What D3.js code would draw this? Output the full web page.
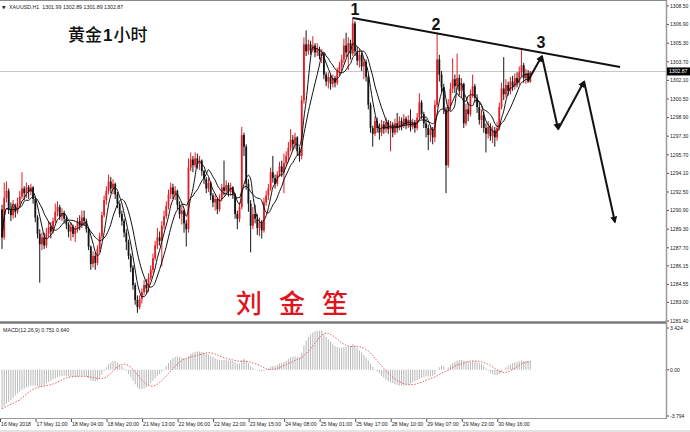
<!DOCTYPE html>
<html><head><meta charset="utf-8">
<script src="https://cdn.jsdelivr.net/npm/d3@7/dist/d3.min.js"></script>
<style>html,body{margin:0;padding:0;background:#fff;} svg{display:block;}</style>
</head><body><svg id="c" width="690" height="432"></svg>
<script>
// ---------------- data (XAUUSD H1) ----------------
const symbolHeader = "XAUUSD,H1  1301.99 1302.89 1301.89 1302.87";
const macdHeader = "MACD(12,26,9) 0.751 0.640";
const firstOpen = 1291.0;
const closes = [
1288.6,1292.0,1292.6,1291.0,1290.5,1291.3,1290.8,1291.5,1292.1,1292.8,
1292.4,1292.9,1292.5,1292.9,1291.9,1290.3,1288.9,1288.0,1288.6,1287.9,
1288.9,1289.5,1289.1,1290.0,1290.8,1291.2,1290.4,1290.7,1290.2,1289.7,
1289.1,1289.5,1288.9,1289.3,1290.0,1289.6,1290.3,1290.0,1289.3,1287.8,
1286.3,1287.0,1286.4,1287.6,1288.7,1290.5,1291.8,1292.6,1293.4,1292.8,
1293.2,1292.3,1291.5,1290.6,1290.0,1289.0,1288.2,1287.0,1286.0,1284.5,
1283.2,1282.6,1283.3,1283.9,1284.5,1284.2,1285.1,1285.8,1286.8,1287.9,
1288.6,1288.3,1289.6,1290.4,1291.3,1292.3,1292.9,1292.3,1292.6,1291.4,
1290.6,1290.9,1289.8,1289.3,1294.6,1295.3,1294.8,1295.4,1294.9,1295.2,
1294.3,1293.6,1292.8,1293.3,1292.2,1291.6,1291.9,1291.0,1291.9,1292.9,
1292.6,1293.1,1292.5,1292.9,1292.3,1290.6,1290.2,1291.2,1297.4,1296.4,
1293.2,1291.5,1289.6,1290.6,1290.2,1289.4,1289.9,1289.2,1291.6,1292.2,
1292.8,1294.2,1293.7,1293.2,1294.0,1294.7,1294.2,1295.0,1295.6,1296.3,
1297.0,1296.6,1297.2,1296.0,1295.6,1300.4,1305.2,1304.6,1305.2,1304.7,
1305.1,1304.5,1304.8,1304.2,1304.4,1302.6,1302.0,1302.4,1301.8,1302.3,
1301.9,1302.9,1303.3,1303.9,1305.1,1304.5,1305.3,1304.4,1307.0,1304.6,
1303.8,1304.3,1303.3,1303.7,1302.4,1300.0,1298.0,1297.5,1298.6,1298.0,
1297.6,1298.3,1297.9,1298.5,1297.9,1298.3,1297.6,1298.4,1298.0,1298.6,
1298.2,1298.8,1298.3,1298.7,1298.1,1298.5,1298.0,1298.9,1300.2,1299.2,
1298.4,1298.0,1297.4,1297.9,1297.2,1300.0,1303.9,1302.6,1301.5,1299.6,
1294.8,1299.9,1301.4,1302.2,1301.6,1302.3,1301.2,1301.8,1298.4,1299.6,
1299.2,1300.8,1301.6,1300.6,1299.8,1298.7,1299.1,1298.0,1297.5,1298.1,
1297.3,1297.8,1297.2,1298.0,1299.8,1301.4,1300.9,1301.7,1301.2,1302.0,
1301.6,1302.3,1301.9,1302.8,1303.4,1302.3,1302.7,1301.99,1302.87];
const highs = [
1291.4,1293.3,1293.4,1292.8,1291.6,1291.8,1291.5,1292.0,1292.6,1294.2,
1293.0,1293.3,1293.1,1293.2,1293.0,1292.0,1290.5,1289.3,1289.0,1289.0,
1289.4,1290.0,1289.9,1290.3,1291.5,1291.7,1291.4,1291.1,1290.9,1290.4,
1289.9,1289.9,1289.7,1289.6,1290.3,1290.5,1290.9,1290.9,1290.2,1289.4,
1287.9,1287.4,1287.3,1287.9,1289.0,1290.8,1292.2,1293.0,1294.0,1293.8,
1293.6,1293.3,1292.5,1291.6,1290.9,1290.2,1289.3,1288.4,1287.2,1286.2,
1284.7,1283.6,1283.6,1284.2,1284.9,1285.0,1285.5,1286.2,1287.2,1288.3,
1289.4,1289.1,1290.0,1290.9,1291.7,1292.7,1293.3,1293.2,1293.0,1292.7,
1291.7,1291.3,1291.0,1290.1,1295.4,1295.9,1295.6,1295.9,1295.8,1295.6,
1295.3,1294.4,1293.8,1293.7,1293.4,1292.4,1292.3,1292.0,1292.3,1293.2,
1295.2,1293.5,1293.3,1293.3,1293.0,1292.4,1290.9,1291.6,1298.1,1297.6,
1296.6,1293.6,1291.8,1291.2,1291.4,1290.6,1290.3,1290.1,1292.0,1292.6,
1293.2,1294.6,1295.6,1294.0,1294.3,1295.1,1295.2,1295.8,1296.0,1296.8,
1297.9,1297.4,1297.6,1297.3,1296.4,1300.8,1305.8,1306.4,1305.6,1305.5,
1305.9,1305.3,1305.3,1305.0,1304.8,1304.5,1302.8,1302.8,1302.6,1302.6,
1302.5,1303.2,1303.7,1304.3,1305.7,1306.2,1305.8,1305.6,1307.5,1307.2,
1305.0,1304.8,1304.5,1304.0,1303.9,1302.6,1300.2,1298.2,1299.0,1298.9,
1298.4,1298.7,1298.6,1298.9,1298.7,1298.6,1298.5,1298.8,1299.3,1299.0,
1298.9,1299.2,1299.0,1299.1,1299.6,1298.8,1298.7,1299.3,1301.0,1300.4,
1299.4,1298.8,1298.3,1298.2,1298.1,1300.4,1306.1,1304.3,1302.9,1301.8,
1299.8,1300.5,1301.9,1304.0,1302.6,1304.4,1302.6,1302.3,1301.9,1300.1,
1300.2,1301.3,1302.6,1301.8,1300.9,1300.2,1299.6,1299.4,1298.4,1298.6,
1298.4,1298.2,1298.1,1298.5,1300.2,1301.9,1304.1,1302.2,1302.0,1302.4,
1302.5,1302.7,1302.8,1303.3,1304.7,1303.6,1303.1,1303.0,1302.89];
const lows = [
1287.6,1288.4,1291.6,1290.6,1290.0,1290.2,1290.3,1290.6,1291.2,1291.9,
1291.8,1292.0,1291.9,1292.2,1291.5,1289.9,1288.5,1284.7,1287.5,1287.6,
1287.7,1288.6,1288.5,1288.9,1289.8,1290.4,1290.1,1290.0,1289.8,1289.3,
1288.6,1288.3,1288.6,1288.2,1289.0,1289.2,1289.4,1289.6,1289.0,1287.5,
1285.8,1286.0,1285.8,1286.2,1287.3,1288.5,1290.3,1291.4,1292.3,1292.4,
1292.3,1291.9,1291.1,1290.3,1289.6,1288.6,1287.5,1286.7,1285.6,1284.1,
1282.8,1282.1,1282.4,1282.9,1283.6,1283.8,1283.9,1284.9,1285.5,1286.6,
1287.6,1287.9,1286.1,1289.3,1290.2,1291.0,1291.9,1291.9,1291.8,1291.0,
1290.2,1289.7,1289.0,1287.8,1289.0,1294.3,1294.2,1294.6,1294.5,1294.4,
1293.9,1293.2,1292.4,1292.5,1291.8,1291.2,1290.9,1290.6,1290.8,1291.7,
1292.2,1292.3,1292.1,1292.2,1291.9,1290.2,1289.3,1289.9,1291.0,1295.6,
1292.7,1290.8,1287.3,1289.3,1289.8,1288.8,1288.7,1288.5,1289.0,1291.3,
1291.8,1292.6,1293.3,1292.8,1293.0,1293.8,1293.8,1292.4,1294.7,1295.1,
1296.0,1296.1,1296.2,1295.6,1295.1,1295.3,1300.1,1304.2,1304.3,1304.3,
1304.5,1304.1,1304.2,1303.9,1303.6,1302.2,1301.6,1301.4,1301.3,1301.5,
1301.5,1301.7,1302.5,1302.9,1303.6,1304.1,1303.0,1303.9,1304.2,1304.2,
1303.4,1303.2,1302.9,1302.2,1302.0,1299.6,1297.6,1296.4,1297.3,1297.6,
1297.0,1297.3,1297.5,1297.6,1297.5,1296.0,1297.2,1297.4,1297.6,1297.8,
1297.8,1298.0,1297.9,1298.0,1297.7,1297.9,1297.6,1297.8,1298.7,1298.8,
1298.0,1297.2,1296.1,1296.8,1296.6,1296.8,1299.8,1302.0,1301.1,1299.2,
1292.4,1294.6,1299.5,1301.0,1301.0,1301.3,1300.8,1300.6,1298.0,1298.2,
1298.6,1299.0,1300.6,1300.2,1299.3,1298.3,1298.0,1297.6,1295.9,1297.1,
1296.9,1296.7,1296.4,1296.9,1297.8,1299.6,1300.4,1300.6,1300.8,1300.9,
1301.2,1301.3,1301.5,1301.7,1302.4,1301.9,1301.8,1301.9,1301.89];
const macdMain = [
-3.2,-3.0,-2.8,-2.65,-2.5,-2.3,-2.1,-1.95,-1.8,-1.65,
-1.55,-1.45,-1.35,-1.3,-1.3,-1.3,-1.35,-1.4,-1.35,-1.3,
-1.1,-1.0,-0.9,-0.8,-0.7,-0.6,-0.55,-0.5,-0.5,-0.5,
-0.55,-0.55,-0.6,-0.6,-0.55,-0.5,-0.5,-0.5,-0.55,-0.7,
-0.9,-0.95,-0.95,-0.85,-0.7,-0.4,-0.1,0.2,0.45,0.6,
0.7,0.7,0.6,0.45,0.3,0.1,-0.1,-0.35,-0.6,-0.9,
-1.2,-1.45,-1.6,-1.6,-1.55,-1.45,-1.3,-1.1,-0.9,-0.7,
-0.5,-0.35,-0.15,0.05,0.3,0.55,0.8,0.95,1.05,1.1,
1.05,1.0,0.95,0.9,1.1,1.3,1.4,1.45,1.5,1.5,
1.45,1.4,1.3,1.25,1.15,1.05,0.95,0.85,0.8,0.8,
0.8,0.8,0.75,0.75,0.7,0.6,0.5,0.5,0.8,0.9,
0.75,0.55,0.3,0.15,0.05,-0.05,-0.1,-0.15,-0.1,0.0,
0.1,0.25,0.3,0.3,0.4,0.5,0.55,0.65,0.75,0.9,
1.0,1.05,1.1,1.05,1.0,1.4,2.0,2.4,2.7,2.9,
3.05,3.15,3.2,3.2,3.2,2.9,2.7,2.5,2.3,2.1,
1.95,1.85,1.8,1.8,1.85,1.9,1.95,1.95,2.1,2.0,
1.8,1.6,1.4,1.2,1.0,0.75,0.5,0.25,0.05,-0.15,
-0.3,-0.5,-0.65,-0.8,-0.95,-1.05,-1.1,-1.2,-1.25,-1.3,
-1.3,-1.3,-1.25,-1.2,-1.15,-1.05,-0.95,-0.85,-0.75,-0.65,
-0.6,-0.55,-0.55,-0.55,-0.5,-0.4,0.0,0.2,0.35,0.3,
0.0,0.2,0.4,0.55,0.65,0.75,0.8,0.8,0.75,0.7,
0.65,0.65,0.7,0.7,0.65,0.55,0.45,0.35,0.1,-0.1,
-0.25,-0.35,-0.45,-0.45,-0.35,-0.2,0.0,0.2,0.35,0.45,
0.55,0.6,0.65,0.7,0.75,0.72,0.7,0.7,0.751];
const maPeriods = [5, 10];
const signalPeriod = 9;
const priceTicks = ["1308.50","1306.90","1305.30","1303.70","1302.10","1300.50","1298.90","1297.30",
  "1295.70","1294.10","1292.50","1290.90","1289.30","1287.70","1286.15","1284.55","1283.00","1281.40"];
const macdTicks = ["3.424","0.00","-3.794"];
const timeLabels = ["16 May 2018","17 May 11:00","18 May 04:00","18 May 20:00","21 May 13:00","22 May 06:00",
  "22 May 22:00","23 May 15:00","24 May 08:00","25 May 01:00","25 May 17:00","28 May 10:00","29 May 07:00",
  "29 May 23:00","30 May 16:00"];
const timeLabelBars = [0,16,32,48,64,80,96,112,128,144,160,176,192,208,224];
const lastPrice = 1302.87;
const trendBars = [158, 278.4];
const trendPrices = [1307.47, 1303.25];
const forecastBars = [237, 243.2, 250.5, 262.2, 276.1];
const forecastPrices = [1302.1, 1304.2, 1297.9, 1302.0, 1289.9];
const waveLabels = ["1","2","3"];
const waveBars = [159, 195.5, 242.8];
const wavePrices = [1307.73, 1306.43, 1304.9];
const titleText = ["黄金", "1", "小时"];
const authorText = "刘金笙";

// ---------------- drawing ----------------
const svg = d3.select("#c");
const FONT = "'Liberation Sans', Arial, sans-serif";
const CJK = "'Noto Sans CJK SC', sans-serif";
const plotRight = 666;
const x = d3.scaleLinear().domain([0, 300]).range([2, 668]);
const y = d3.scaleLinear().domain([1281.4, 1308.5]).range([321, 6]);
const ym = d3.scaleLinear().domain([-3.794, 3.424]).range([416, 328]);

svg.append("rect").attr("width", 690).attr("height", 432).attr("fill", "#fff");

const defs = svg.append("defs");
defs.append("clipPath").attr("id", "mainClip").append("rect").attr("x", 0).attr("y", 1).attr("width", plotRight).attr("height", 320);
defs.append("clipPath").attr("id", "macdClip").append("rect").attr("x", 0).attr("y", 324).attr("width", plotRight).attr("height", 93);
defs.append("marker").attr("id", "arr").attr("viewBox", "0 0 10 10").attr("refX", 8).attr("refY", 5)
  .attr("markerWidth", 7).attr("markerHeight", 7).attr("markerUnits", "userSpaceOnUse").attr("orient", "auto")
  .append("path").attr("d", "M0,0 L10,5 L0,10 z").attr("fill", "#111");

const main = svg.append("g").attr("clip-path", "url(#mainClip)");

// current price line
main.append("line").attr("x1", 0).attr("x2", plotRight).attr("y1", Math.round(y(lastPrice)) + 0.5).attr("y2", Math.round(y(lastPrice)) + 0.5)
  .attr("stroke", "#c8c8c8").attr("stroke-width", 1);

// candles
const bars = closes.map((c, i) => {
  const o = i === 0 ? firstOpen : closes[i - 1];
  return { i, o, c, h: Math.max(highs[i], o, c), l: Math.min(lows[i], o, c) };
});
const upCol = "#e01e24", dnCol = "#141414";
const cg = main.append("g");
cg.selectAll("line.w").data(bars).join("line").attr("class", "w")
  .attr("x1", d => x(d.i)).attr("x2", d => x(d.i))
  .attr("y1", d => y(d.h)).attr("y2", d => y(d.l))
  .attr("stroke", d => d.c >= d.o ? upCol : dnCol).attr("stroke-width", 1);
cg.selectAll("rect.b").data(bars).join("rect").attr("class", "b")
  .attr("x", d => x(d.i) - 0.9).attr("width", 1.8)
  .attr("y", d => y(Math.max(d.o, d.c)))
  .attr("height", d => Math.max(0.8, Math.abs(y(d.o) - y(d.c))))
  .attr("fill", d => d.c >= d.o ? upCol : dnCol);

// moving averages
function sma(arr, n) {
  return arr.map((v, i) => {
    const s = Math.max(0, i - n + 1);
    return d3.mean(arr.slice(s, i + 1));
  });
}
maPeriods.forEach(p => {
  const m = sma(closes, p);
  const line = d3.line().x((d, i) => x(i)).y(d => y(d)).curve(d3.curveMonotoneX);
  main.append("path").attr("d", line(m)).attr("fill", "none").attr("stroke", "#111").attr("stroke-width", 1);
});

// trendline
main.append("line").attr("x1", x(trendBars[0])).attr("y1", y(trendPrices[0]))
  .attr("x2", x(trendBars[1])).attr("y2", y(trendPrices[1]))
  .attr("stroke", "#111").attr("stroke-width", 2);

// forecast arrows
for (let k = 0; k < forecastBars.length - 1; k++) {
  main.append("line").attr("x1", x(forecastBars[k])).attr("y1", y(forecastPrices[k]))
    .attr("x2", x(forecastBars[k + 1])).attr("y2", y(forecastPrices[k + 1]))
    .attr("stroke", "#111").attr("stroke-width", 2).attr("marker-end", "url(#arr)");
}

// wave labels
waveLabels.forEach((t, k) => {
  svg.append("text").attr("x", x(waveBars[k])).attr("y", y(wavePrices[k]))
    .attr("text-anchor", "middle").attr("font-family", FONT).attr("font-weight", "bold")
    .attr("font-size", 16).attr("fill", "#111").text(t);
});

// title
const tt = svg.append("text").attr("x", 68).attr("y", 41).attr("font-size", 17).attr("fill", "#111");
tt.append("tspan").attr("font-family", CJK).attr("font-weight", 500).text(titleText[0]);
tt.append("tspan").attr("font-family", FONT).attr("font-weight", "bold").attr("dx", 1).text(titleText[1]);
tt.append("tspan").attr("font-family", CJK).attr("font-weight", 500).attr("dx", 1).text(titleText[2]);

// author
svg.append("text").attr("x", 236).attr("y", 313).attr("font-family", CJK).attr("font-weight", 500)
  .attr("font-size", 26).attr("letter-spacing", 17).attr("fill", "#e0141e").text(authorText);

// header
svg.append("text").attr("x", 2).attr("y", 8.5).attr("font-family", "'DejaVu Sans', sans-serif").attr("font-size", 4.5).attr("fill", "#222").text("▼");
svg.append("text").attr("x", 9).attr("y", 8.5).attr("font-family", FONT).attr("font-size", 5.3).attr("fill", "#222")
  .attr("xml:space", "preserve").text(symbolHeader);

// ---------- MACD ----------
const mg = svg.append("g").attr("clip-path", "url(#macdClip)");
mg.selectAll("line.h").data(macdMain).join("line").attr("class", "h")
  .attr("x1", (d, i) => x(i)).attr("x2", (d, i) => x(i))
  .attr("y1", ym(0)).attr("y2", d => ym(d))
  .attr("stroke", "#b8b8b8").attr("stroke-width", 1);
const signal = sma(macdMain, signalPeriod);
mg.append("path").attr("d", d3.line().x((d, i) => x(i)).y(d => ym(d))(signal))
  .attr("fill", "none").attr("stroke", "#e06060").attr("stroke-width", 1).attr("stroke-dasharray", "1.5,1.5");
svg.append("text").attr("x", 3).attr("y", 332).attr("font-family", FONT).attr("font-size", 5.3).attr("fill", "#222").text(macdHeader);

// ---------- frame ----------
svg.append("line").attr("x1", 0).attr("x2", plotRight).attr("y1", 0.5).attr("y2", 0.5).attr("stroke", "#8a8a8a");
svg.append("line").attr("x1", plotRight + 0.5).attr("x2", plotRight + 0.5).attr("y1", 0).attr("y2", 418.5).attr("stroke", "#9a9a9a").attr("stroke-width", 1.5);
svg.append("line").attr("x1", 0).attr("x2", plotRight).attr("y1", 322.5).attr("y2", 322.5).attr("stroke", "#7a7a7a").attr("stroke-width", 2.5);
svg.append("line").attr("x1", 0).attr("x2", plotRight + 1).attr("y1", 418.5).attr("y2", 418.5).attr("stroke", "#9a9a9a").attr("stroke-width", 1);
svg.append("line").attr("x1", 0).attr("x2", 690).attr("y1", 431).attr("y2", 431).attr("stroke", "#c8c8c8").attr("stroke-width", 1);

// price axis
const ax = svg.append("g");
priceTicks.forEach(t => {
  const yy = y(+t);
  ax.append("line").attr("x1", plotRight + 1).attr("x2", plotRight + 3).attr("y1", yy).attr("y2", yy).attr("stroke", "#555");
  ax.append("text").attr("x", 670).attr("y", yy + 1.8).attr("font-family", FONT).attr("font-size", 5.1).attr("fill", "#222").text(t);
});
macdTicks.forEach(t => {
  const yy = ym(+t);
  ax.append("line").attr("x1", plotRight + 1).attr("x2", plotRight + 3).attr("y1", yy).attr("y2", yy).attr("stroke", "#555");
  ax.append("text").attr("x", 670).attr("y", yy + 1.8).attr("font-family", FONT).attr("font-size", 5.1).attr("fill", "#222").text(t);
});
// current price tag
const ly = y(lastPrice);
ax.append("rect").attr("x", 667).attr("y", ly - 4).attr("width", 23).attr("height", 8).attr("fill", "#000");
ax.append("text").attr("x", 669).attr("y", ly + 1.8).attr("font-family", FONT).attr("font-size", 5.1).attr("fill", "#fff").text(lastPrice.toFixed(2));

// time axis
timeLabels.forEach((t, k) => {
  const xx = Math.max(0.5, x(timeLabelBars[k]) - 1.5);
  ax.append("line").attr("x1", xx).attr("x2", xx).attr("y1", 419).attr("y2", 422).attr("stroke", "#555");
  ax.append("text").attr("x", xx + 0.5).attr("y", 426).attr("font-family", FONT).attr("font-size", 5.2).attr("fill", "#222").text(t);
});
</script></body></html>
